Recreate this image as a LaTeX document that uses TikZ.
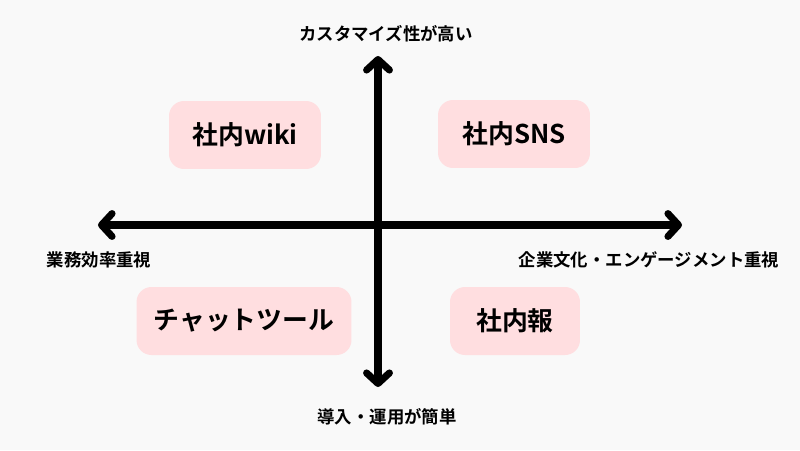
\documentclass[tikz,border=0pt]{standalone}
\usepackage{fontspec}
\usepackage{xcolor}
\usetikzlibrary{arrows.meta}
\newfontfamily\jpfont{Noto Sans CJK JP}[BoldFont=* Bold]

\definecolor{bgcol}{HTML}{F9F9F9}
\definecolor{boxcol}{HTML}{FFDEE0}

\tikzset{
  quad/.style={fill=boxcol, rounded corners=0.3cm, minimum height=1.36cm, inner sep=0pt,
    font=\jpfont\bfseries\fontsize{14.7}{16}\selectfont},
  axislabel/.style={font=\jpfont\bfseries\fontsize{9.9}{11}\selectfont},
  axisline/.style={line width=4pt, line cap=round,
    {Straight Barb[round, length=6pt, width=13pt]}-{Straight Barb[round, length=6pt, width=13pt]}}
}

\begin{document}
\begin{tikzpicture}[x=0.02cm, y=-0.02cm]
  % Background of the page
  \fill[bgcol] (0,0) rectangle (800,450);
  \useasboundingbox (0,0) rectangle (800,450);

  % Axis ends
  \coordinate (top) at (378,56);
  \coordinate (bottom) at (378,387);
  \coordinate (left) at (98,225);
  \coordinate (right) at (682,225);

  % Draw the two axes
  \draw[axisline] (left) -- (right);
  \draw[axisline] (top) -- (bottom);

  % Axis labels
  \node[axislabel] (hi) at (386,34) {カスタマイズ性が高い};
  \node[axislabel] (easy) at (387,417) {導入・運用が簡単};
  \node[axislabel] (eff) at (99,260) {業務効率重視};
  \node[axislabel] (cult) at (649,260) {企業文化・エンゲージメント重視};

  % Quadrant boxes
  \node[quad, minimum width=3.04cm] (wiki) at (245,135) {社内wiki};
  \node[quad, minimum width=3.04cm] (sns) at (514,134) {社内SNS};
  \node[quad, minimum width=4.3cm] (chat) at (244,321) {チャットツール};
  \node[quad, minimum width=2.6cm] (news) at (515,321) {社内報};
\end{tikzpicture}
\end{document}
